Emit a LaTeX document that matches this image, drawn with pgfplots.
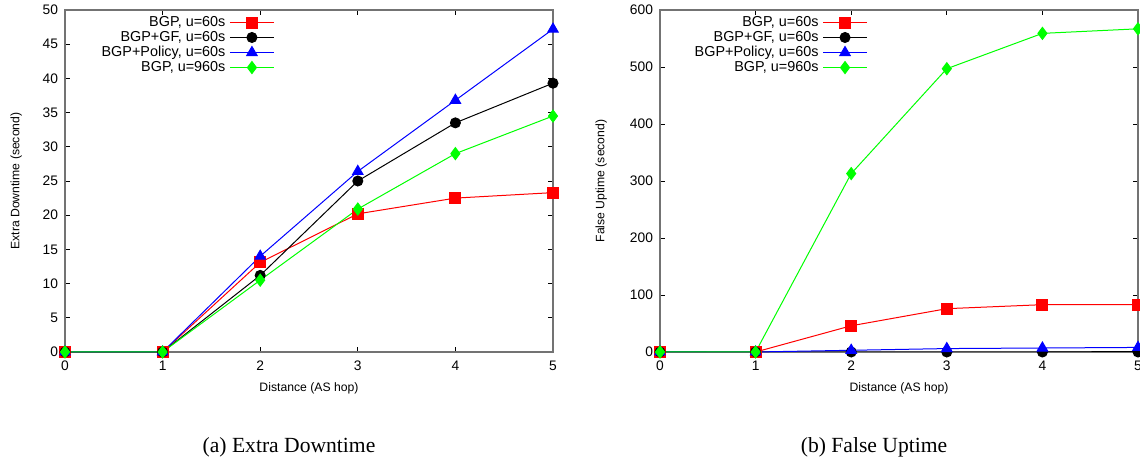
\documentclass[border=0pt]{standalone}
\usepackage{fontspec}
\setmainfont{Liberation Sans}
\newfontfamily\capfont{Liberation Serif}
\usepackage{pgfplots}
\pgfplotsset{compat=1.18}
\definecolor{framegray}{RGB}{115,115,115}

\pgfplotsset{
  gp/.style={
    scale only axis, clip=false,
    xmin=0, xmax=5, ymin=0, xtick={0,...,5},
    tick align=inside, major tick length=2.5pt,
    axis line style={framegray, line width=0.9pt},
    major tick style={black, line width=0.4pt},
    tick label style={font=\fontsize{6.9}{7.5}\selectfont},
    xticklabel style={yshift=-1pt},
    label style={font=\fontsize{6.1}{7}\selectfont},
    /pgf/number format/assume math mode=true,
    xlabel={Distance (AS hop)},
    xlabel style={at={(axis description cs:0.5,0)}, anchor=center, yshift=-18pt},
    every axis plot/.append style={line width=0.5pt},
    legend plot pos=right, legend cell align=right,
    legend style={draw=none, fill=none, anchor=north east, inner sep=0pt,
      font=\fontsize{7.2}{8}\selectfont, row sep=-3.1pt},
    legend image code/.code={\draw[mark repeat=2,mark phase=2]
      plot coordinates {(0pt,0pt)(11pt,0pt)(22pt,0pt)};},
  },
  s1/.style={red, mark=square*, mark size=2.75pt},
  s2/.style={black, mark=*, mark size=2.5pt},
  s3/.style={blue, mark=triangle*, mark size=3pt},
  s4/.style={green, mark=diamond*, mark size=3pt},
}

\begin{document}
\begin{tikzpicture}
\path[use as bounding box] (0,0) rectangle (570pt,229.5pt);

\begin{axis}[gp,
  at={(32.5pt,53.5pt)}, anchor=south west,
  width=244pt, height=171pt,
  ymax=50, ytick={0,5,...,50},
  ylabel={Extra Downtime (second)},
  ylabel style={at={(axis description cs:-0.1,0.5)}, anchor=center},
  legend style={at={(axis description cs:0.43,0.995)}},
]
\addplot[s1] coordinates {(0,0) (1,0) (2,13.1) (3,20.2) (4,22.5) (5,23.3)};
\addplot[s2] coordinates {(0,0) (1,0) (2,11.2) (3,25.0) (4,33.5) (5,39.3)};
\addplot[s3] coordinates {(0,0) (1,0) (2,14.0) (3,26.4) (4,36.8) (5,47.2)};
\addplot[s4] coordinates {(0,0) (1,0) (2,10.5) (3,20.9) (4,29.0) (5,34.5)};
\legend{{BGP, u=60s},{BGP+GF, u=60s},{BGP+Policy, u=60s},{BGP, u=960s}}
\end{axis}

\begin{axis}[gp,
  at={(330pt,53.5pt)}, anchor=south west,
  width=239pt, height=171pt,
  ymax=600, ytick={0,100,...,600},
  ylabel={False Uptime (second)},
  ylabel style={at={(axis description cs:-0.123,0.5)}, anchor=center},
  legend style={at={(axis description cs:0.435,0.995)}},
]
\addplot[s1] coordinates {(0,0) (1,0) (2,46) (3,76) (4,83) (5,83)};
\addplot[s2] coordinates {(0,0) (1,0) (2,0) (3,0) (4,0) (5,0)};
\addplot[s3] coordinates {(0,0) (1,0) (2,3) (3,6) (4,7) (5,8)};
\addplot[s4] coordinates {(0,0) (1,0) (2,313) (3,497) (4,559) (5,567)};
\legend{{BGP, u=60s},{BGP+GF, u=60s},{BGP+Policy, u=60s},{BGP, u=960s}}
\end{axis}

\node[font=\capfont\fontsize{10.8}{12}\selectfont] at (144.5pt,6pt) {(a) Extra Downtime};
\node[font=\capfont\fontsize{10.8}{12}\selectfont] at (437pt,6pt) {(b) False Uptime};
\end{tikzpicture}
\end{document}
